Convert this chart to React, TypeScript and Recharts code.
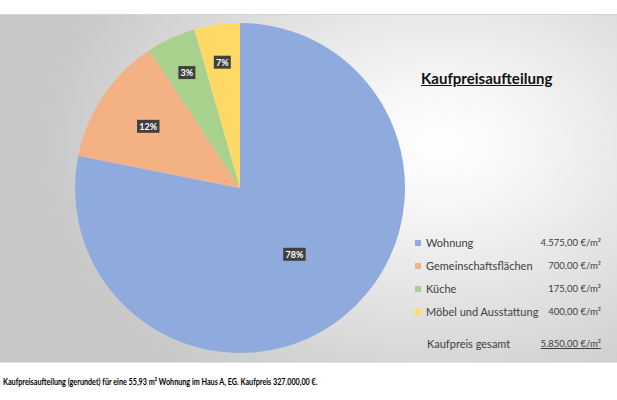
import { Legend, Pie, PieChart } from 'recharts';

// Kaufpreisaufteilung: pie of the price split per m², with the legend as a
// price table on the right. Slice labels are the rounded text from the sheet.
const categories = ['Wohnung', 'Gemeinschaftsflächen', 'Küche', 'Möbel und Ausstattung'];
const shares = [78.12, 12.6, 4.83, 4.45];
const sliceLabels = ['78%', '12%', '3%', '7%'];
const pricePerSqm = ['4.575,00 €/m²', '700,00 €/m²', '175,00 €/m²', '400,00 €/m²'];
const totalLabel = 'Kaufpreis gesamt';
const totalPrice = '5.850,00 €/m²';
const colors = ['#8FAADC', '#F4B183', '#A9D18E', '#FFD966'];

const title = 'Kaufpreisaufteilung';
const caption =
  'Kaufpreisaufteilung (gerundet) für eine 55,93 m² Wohnung im Haus A, EG. Kaufpreis 327.000,00 €.';

const FONT = 'Lato, "Open Sans", sans-serif';
const RADIAN = Math.PI / 180;

const data = categories.map((name, i) => ({
  name,
  value: shares[i],
  label: sliceLabels[i],
  price: pricePerSqm[i],
  fill: colors[i],
}));

function SliceLabel(props: any) {
  const { cx, cy, midAngle, outerRadius, percent, index } = props;
  // Excel pushes small slices' labels further out
  const k = percent > 0.5 ? 0.52 : percent > 0.1 ? 0.67 : 0.77;
  const r = outerRadius * k;
  const x = cx + r * Math.cos(-midAngle * RADIAN);
  const y = cy + r * Math.sin(-midAngle * RADIAN);
  const text = data[index].label;
  const w = text.length * 5.5 + 6;
  return (
    <g>
      <rect x={x - w / 2} y={y - 6.5} width={w} height={13} fill="#404040" />
      <text
        x={x}
        y={y}
        fill="#ffffff"
        fontSize={9}
        fontWeight={700}
        fontFamily={FONT}
        textAnchor="middle"
        dominantBaseline="central"
      >
        {text}
      </text>
    </g>
  );
}

function PriceLegend() {
  return (
    <div style={{ width: 186, fontFamily: FONT, color: '#404040', whiteSpace: 'nowrap' }}>
      {data.map((d) => (
        <div key={d.name} style={{ display: 'flex', alignItems: 'center', height: 23 }}>
          <span style={{ width: 6, height: 6, background: d.fill, marginRight: 5, flexShrink: 0 }} />
          <span style={{ fontSize: 11, flex: 1 }}>{d.name}</span>
          <span style={{ fontSize: 9.5 }}>{d.price}</span>
        </div>
      ))}
      <div style={{ display: 'flex', alignItems: 'center', height: 41, paddingLeft: 12 }}>
        <span style={{ fontSize: 11, flex: 1 }}>{totalLabel}</span>
        <span style={{ fontSize: 9.5, textDecoration: 'underline' }}>{totalPrice}</span>
      </div>
    </div>
  );
}

export default function App() {
  return (
    <div style={{ position: 'absolute', left: 0, top: 0, width: 617, height: 400, background: '#fff' }}>
      <style>{`
        .kp-pie .recharts-pie-sectors { filter: drop-shadow(0 0 7px rgba(0,0,0,0.32)); }
        .kp-pie .recharts-pie-labels { filter: drop-shadow(1px 1px 1.5px rgba(0,0,0,0.45)); }
      `}</style>
      <div
        style={{
          position: 'absolute',
          left: 0,
          top: 14,
          width: 617,
          height: 349,
          borderTop: '1px solid #d4d4d4',
          borderBottom: '1px solid #e2e2e2',
          boxSizing: 'border-box',
          background:
            'radial-gradient(ellipse 400px 290px at 440px 130px, #ffffff 0%, #f6f6f6 22%, #c8c8c8 100%)',
        }}
      />
      <div
        style={{
          position: 'absolute',
          left: 421,
          top: 69,
          fontFamily: FONT,
          fontSize: 15.5,
          fontWeight: 700,
          textDecoration: 'underline',
          color: '#111',
          transform: 'scaleX(0.97)',
          transformOrigin: 'left center',
        }}
      >
        {title}
      </div>
      <div style={{ position: 'absolute', left: 0, top: 0 }}>
        <PieChart width={617} height={400} margin={{ top: 0, right: 0, bottom: 0, left: 0 }}>
          <Pie
            className="kp-pie"
            data={data}
            dataKey="value"
            nameKey="name"
            cx={240}
            cy={188}
            outerRadius={165}
            startAngle={90}
            endAngle={-270}
            stroke="none"
            label={SliceLabel}
            labelLine={false}
            isAnimationActive={false}
          />
          <Legend
            content={<PriceLegend />}
            wrapperStyle={{ left: 415, top: 231, width: 186 }}
          />
        </PieChart>
      </div>
      <div
        style={{
          position: 'absolute',
          left: 3,
          top: 376,
          fontFamily: FONT,
          fontSize: 9,
          fontWeight: 700,
          color: '#000',
          whiteSpace: 'nowrap',
          transform: 'scaleX(0.8)',
          transformOrigin: 'left center',
        }}
      >
        {caption}
      </div>
    </div>
  );
}
